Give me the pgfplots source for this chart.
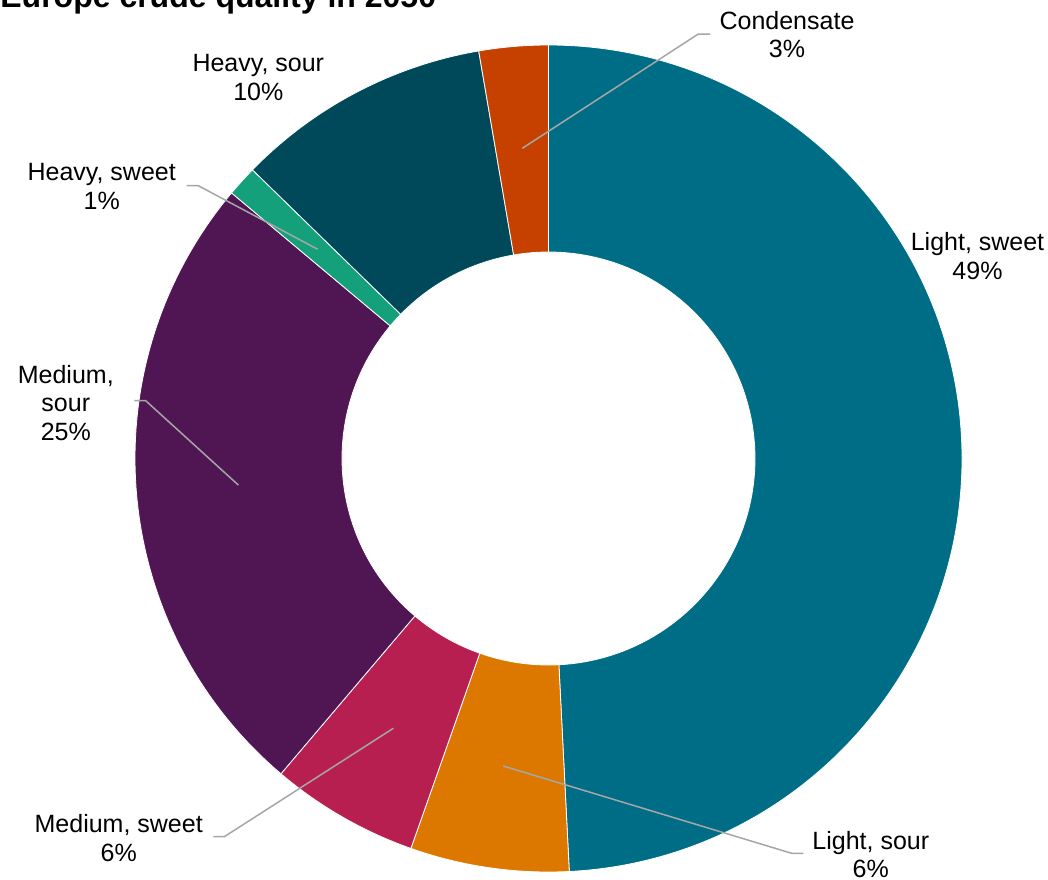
\documentclass[border=0pt]{standalone}
\usepackage{pgfplots}
\pgfplotsset{compat=1.18}
\usepackage{pgfplotstable}
\usepackage{fontspec}
\setmainfont{Liberation Sans}

\definecolor{col0}{HTML}{006D87}% Light, sweet
\definecolor{col1}{HTML}{DC7800}% Light, sour
\definecolor{col2}{HTML}{B71F51}% Medium, sweet
\definecolor{col3}{HTML}{501653}% Medium, sour
\definecolor{col4}{HTML}{14A07A}% Heavy, sweet
\definecolor{col5}{HTML}{00495A}% Heavy, sour
\definecolor{col6}{HTML}{C64100}% Condensate
\definecolor{leader}{HTML}{A6A6A6}

\tikzset{lbl/.style={anchor=base, inner sep=0pt, font=\fontsize{12.5}{14.25}\selectfont}}

% shares in percent, clockwise from 12 o'clock
\pgfplotstableread{
idx value
0 49.2
1 6.2
2 5.8
3 24.9
4 1.2
5 10.0
6 2.7
}\crudetable

\begin{document}
\begin{tikzpicture}
\gdef\cum{0}
\pgfplotsforeachungrouped \i in {0,...,6}{%
  \pgfplotstablegetelem{\i}{value}\of\crudetable
  \pgfmathsetmacro\sa{90-3.6*\cum}%
  \pgfmathsetmacro\newcum{\cum+\pgfplotsretval}%
  \pgfmathsetmacro\ea{90-3.6*\newcum}%
  \expandafter\xdef\csname sa\i\endcsname{\sa}%
  \expandafter\xdef\csname ea\i\endcsname{\ea}%
  \xdef\cum{\newcum}%
}
\begin{axis}[hide axis, x=0.5pt, y=0.5pt, xmin=0, xmax=1048, ymin=0, ymax=879,
  y dir=reverse, clip=false]

\pgfplotsinvokeforeach{0,...,6}{
  \fill[col#1, draw=white, line width=0.4pt]
    ([shift={(\csname sa#1\endcsname:206.75pt)}]axis cs:548.5,458.5)
    arc[start angle=\csname sa#1\endcsname, end angle=\csname ea#1\endcsname, radius=206.75pt]
    -- ([shift={(\csname ea#1\endcsname:103.25pt)}]axis cs:548.5,458.5)
    arc[start angle=\csname ea#1\endcsname, end angle=\csname sa#1\endcsname, radius=103.25pt]
    -- cycle;
}

% leader lines
\addplot[leader, line width=0.75pt, no markers] coordinates {(522.3,148.3) (698.3,34) (710,34)};
\addplot[leader, line width=0.75pt, no markers] coordinates {(503.3,766) (791.7,853.3) (803.3,853.3)};
\addplot[leader, line width=0.75pt, no markers] coordinates {(393.3,728.3) (224.3,836.7) (213.3,836.7)};
\addplot[leader, line width=0.75pt, no markers] coordinates {(238.3,485) (145.7,400.7) (134.3,400.7)};
\addplot[leader, line width=0.75pt, no markers] coordinates {(317.7,249.3) (198.3,185.7) (186.7,185.7)};

% labels
\node[lbl] at (axis cs:787,29) {Condensate};
\node[lbl] at (axis cs:787,57.5) {3\%};
\node[lbl] at (axis cs:977.5,250.7) {Light, sweet};
\node[lbl] at (axis cs:977.5,279.3) {49\%};
\node[lbl] at (axis cs:870.8,849) {Light, sour};
\node[lbl] at (axis cs:870.8,877.5) {6\%};
\node[lbl] at (axis cs:118.7,832) {Medium, sweet};
\node[lbl] at (axis cs:118.7,861) {6\%};
\node[lbl] at (axis cs:65.8,383.3) {Medium,};
\node[lbl] at (axis cs:65.8,411.6) {sour};
\node[lbl] at (axis cs:65.8,440) {25\%};
\node[lbl] at (axis cs:101.7,180) {Heavy, sweet};
\node[lbl] at (axis cs:101.7,209) {1\%};
\node[lbl] at (axis cs:258.3,71) {Heavy, sour};
\node[lbl] at (axis cs:258.3,100) {10\%};

% title (partly above the picture, as in the reference)
\node[anchor=base west, inner sep=0pt, font=\bfseries\fontsize{16}{19}\selectfont] at (axis cs:0,7.3) {Europe crude quality in 2050};
\end{axis}
\pgfresetboundingbox
\path[use as bounding box] (0,0) rectangle (524pt,439.5pt);
\end{tikzpicture}
\end{document}
